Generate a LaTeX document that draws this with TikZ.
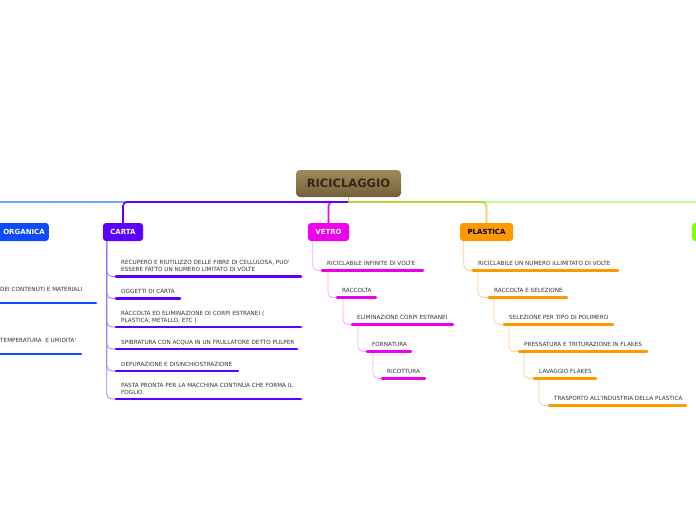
\documentclass[tikz,border=0pt]{standalone}
\usepackage{fontspec}
\setmainfont{DejaVu Sans}
\definecolor{rootTop}{HTML}{A08A5C}
\definecolor{rootBot}{HTML}{72603C}
\definecolor{rootText}{HTML}{3A2414}
\definecolor{orgBlue}{HTML}{0D4BFF}
\definecolor{orgLine}{HTML}{77A3FF}
\definecolor{cartaViolet}{HTML}{5C00FF}
\definecolor{cartaLink}{HTML}{9C78FF}
\definecolor{vetroMag}{HTML}{EE00EE}
\definecolor{vetroLink}{HTML}{F6A8F6}
\definecolor{plasOrange}{HTML}{FF9900}
\definecolor{plasLink}{HTML}{FFCF8A}
\definecolor{trunkOlive}{HTML}{BAD32E}
\definecolor{verdeLime}{HTML}{80FF00}
\definecolor{verdeLine}{HTML}{C6FF8C}
\definecolor{itemGray}{HTML}{333333}

\begin{document}
\begin{tikzpicture}[x=1pt,y=-1pt,
  topic/.style={rounded corners=3pt,minimum height=18pt,inner xsep=2pt,text=white,font=\fontsize{7}{8}\selectfont\bfseries},
  item/.style={anchor=south west,inner xsep=5pt,inner ysep=4.5pt,text depth=0pt,align=left,text=itemGray,font=\fontsize{5.7}{7}\selectfont},
  trunk/.style={line width=1.6pt,rounded corners=4pt},
  twig/.style={line width=0.8pt,rounded corners=5pt},
  uline/.style={line width=2.6pt,line cap=round}]
  \useasboundingbox (0,0) rectangle (696,520);
  \clip (0,0) rectangle (696,520);

  % root and main branches
  \node[rounded corners=4pt,top color=rootTop,bottom color=rootBot,minimum width=105pt,minimum height=27pt,text=rootText,font=\fontsize{11.5}{13}\selectfont\bfseries] (root) at (348.5,183.5) {RICICLAGGIO};
  \coordinate (hub) at (348.5,202);
  \node[topic,fill=orgBlue,anchor=east,text width=102pt,inner xsep=4pt,align=right] (organica) at (49,232) {ORGANICA};
  \node[topic,fill=cartaViolet,minimum width=40pt] (carta) at (123,232) {CARTA};
  \node[topic,fill=vetroMag,minimum width=41pt] (vetro) at (328.5,232) {VETRO};
  \node[topic,fill=plasOrange,minimum width=53pt,text=black] (plastica) at (486.5,232) {PLASTICA};
  \node[topic,fill=verdeLime,anchor=west,minimum width=60pt] (verde) at (692,232) {};

  \draw[trunk,orgLine] (hub) -| (organica.north);
  \draw[trunk,vetroMag] (hub) -| (vetro.north);
  \draw[trunk,cartaViolet] (hub) -| (carta.north);
  \draw[trunk,verdeLine] (hub) -| (verde.north);
  \draw[trunk,trunkOlive] (hub) -| (plastica.north);
  \draw[line width=1.6pt,plasLink] (plastica.north) -- ++(0,-17);
  \draw[line width=1.6pt,trunkOlive] (root.south) -- (hub);

  % organica
  \node[item,inner ysep=11pt] (o1) at (-5,303) {DEI CONTENUTI E MATERIALI};
  \node[item,inner ysep=11pt] (o2) at (-5,354) {TEMPERATURA\ \ E UMIDITA\textquotesingle};
  \foreach \i in {1,2}
    \draw[twig,orgLine] ([xshift=4pt]organica.south west) |- (o\i.south west);
  \foreach \n/\l in {1/101,2/86}
    \draw[uline,orgBlue] (o\n.south west) -- ++(\l,0);

  % carta
  \node[item] (c1) at (116,276.5) {RECUPERO E RIUTILIZZO DELLE FIBRE DI CELLULOSA, PUO\textquotesingle\\ESSERE FATTO UN NUMERO LIMITATO DI VOLTE};
  \node[item] (c2) at (116,298.5) {OGGETTI DI CARTA};
  \node[item] (c3) at (116,327) {RACCOLTA ED ELIMINAZIONE DI CORPI ESTRANEI (\\PLASTICA, METALLO, ETC )};
  \node[item] (c4) at (116,349) {SPIBRATURA CON ACQUA IN UN FRULLATORE DETTO PULPER};
  \node[item] (c5) at (116,371) {DEPURAZIONE E DISINCHIOSTRAZIONE};
  \node[item] (c6) at (116,399) {PASTA PRONTA PER LA MACCHINA CONTINUA CHE FORMA IL\\FOGLIO};
  \foreach \i in {1,...,6}
    \draw[twig,cartaLink] ([xshift=4pt]carta.south west) |- (c\i.south west);
  \foreach \n/\l in {1/185,2/64,3/185,4/181,5/122,6/185}
    \draw[uline,cartaViolet] (c\n.south west) -- ++(\l,0);

  % vetro
  \node[item] (v1) at (322,270.5) {RICICLABILE INFINITE DI VOLTE};
  \node[item] (v2) at (337,297.5) {RACCOLTA};
  \node[item] (v3) at (352,324.5) {ELIMINAZIONE CORPI ESTRANEI};
  \node[item] (v4) at (367,351.5) {FORNATURA};
  \node[item] (v5) at (382,378.5) {RICOTTURA};
  \draw[twig,vetroLink] ([xshift=5pt]vetro.south west) |- (v1.south west);
  \foreach \a/\b in {1/2,2/3,3/4,4/5}
    \draw[twig,vetroLink] ([xshift=6pt]v\a.south west) |- (v\b.south west);
  \foreach \n/\l in {1/101,2/39,3/101,4/44,5/43}
    \draw[uline,vetroMag] (v\n.south west) -- ++(\l,0);

  % plastica
  \node[item] (p1) at (473,270.5) {RICICLABILE UN NUMERO ILLIMITATO DI VOLTE};
  \node[item] (p2) at (489,297.5) {RACCOLTA E SELEZIONE};
  \node[item] (p3) at (504,324.5) {SELEZIONE PER TIPO DI POLIMERO};
  \node[item] (p4) at (519,351.5) {PRESSATURA E TRITURAZIONE IN FLAKES};
  \node[item] (p5) at (534,378.5) {LAVAGGIO FLAKES};
  \node[item] (p6) at (549,405.5) {TRASPORTO ALL\textquotesingle INDUSTRIA DELLA PLASTICA};
  \draw[twig,plasLink] ([xshift=4pt]plastica.south west) |- (p1.south west);
  \foreach \a/\b in {1/2,2/3,3/4,4/5,5/6}
    \draw[twig,plasLink] ([xshift=5pt]p\a.south west) |- (p\b.south west);
  \foreach \n/\l in {1/145,2/78,3/109,4/128,5/62,6/137}
    \draw[uline,plasOrange] (p\n.south west) -- ++(\l,0);
\end{tikzpicture}
\end{document}
